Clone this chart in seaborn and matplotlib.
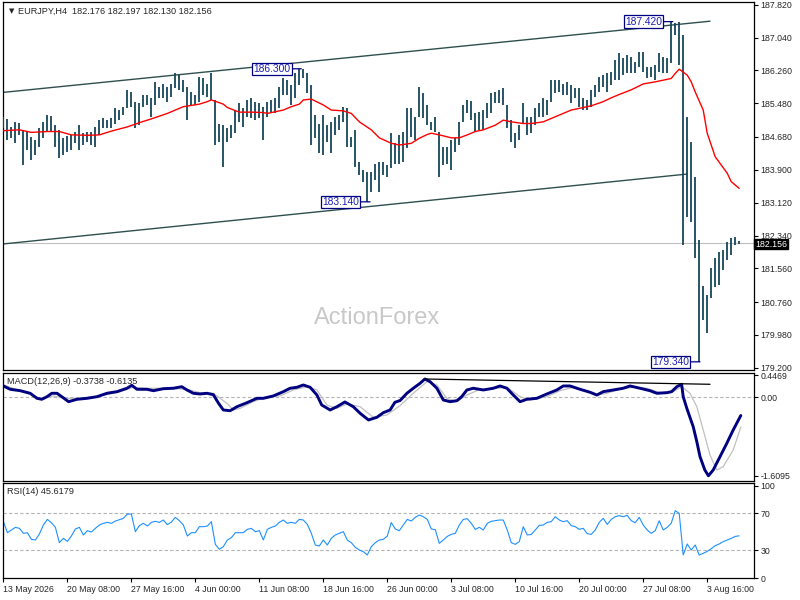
import matplotlib
matplotlib.use("Agg")
import numpy as np
import pandas as pd
import matplotlib.pyplot as plt
import seaborn as sns

sns.set_style("white")
plt.rcParams["font.family"] = ["Liberation Sans", "DejaVu Sans"]
plt.rcParams["font.size"] = 6.3

# EURJPY H4 - each column holds two H4 bars (high / low)
bar_high = [185.16, 185.10, 184.92, 185.04, 185.02, 184.85, 184.81, 184.69, 184.61, 184.89,
            185.04, 185.20, 185.18, 184.96, 184.85, 184.65, 184.70, 184.73, 184.81, 184.96,
            184.78, 184.81, 184.81, 184.92, 185.08, 185.12, 185.08, 185.12, 185.36, 185.32,
            185.40, 185.80, 185.76, 185.52, 185.48, 185.68, 185.68, 185.60, 185.99, 185.87,
            185.95, 185.87, 185.95, 186.19, 186.15, 186.03, 185.87, 185.76, 185.68, 186.11,
            186.07, 185.95, 186.19, 185.56, 185.00, 184.96, 184.89, 184.96, 185.32, 185.48,
            185.36, 185.56, 185.60, 185.52, 185.48, 185.40, 185.52, 185.56, 185.60, 185.87,
            186.07, 186.03, 185.91, 186.19, 186.30, 186.30, 186.19, 185.91, 185.20, 185.00,
            185.20, 184.96, 185.04, 185.16, 185.20, 185.40, 185.36, 184.69, 184.85, 184.09,
            183.90, 183.86, 183.86, 184.05, 184.09, 184.09, 184.01, 184.77, 184.53, 184.73,
            184.81, 185.36, 185.36, 185.16, 185.87, 185.72, 185.44, 185.04, 185.16, 184.81,
            184.45, 184.45, 184.61, 184.65, 185.04, 185.44, 185.56, 185.54, 185.24, 185.27,
            185.32, 185.48, 185.72, 185.76, 185.80, 185.84, 185.44, 185.08, 184.77, 184.96,
            185.48, 185.16, 185.16, 185.36, 185.48, 185.60, 185.56, 186.03, 186.03, 186.03,
            185.95, 185.99, 185.91, 185.84, 185.84, 185.60, 185.56, 185.80, 185.91, 186.11,
            186.15, 186.19, 186.23, 186.51, 186.67, 186.55, 186.63, 186.59, 186.47, 186.71,
            186.71, 186.35, 186.35, 186.39, 186.67, 186.59, 186.55, 187.42, 187.38, 187.42,
            187.10, 185.16, 184.57, 183.74, 182.23, 181.13, 180.93, 181.57, 181.81, 181.96,
            181.99, 182.19, 182.27, 182.31, 182.20]
bar_low = [184.89, 184.61, 184.65, 184.53, 184.73, 184.01, 184.37, 184.13, 184.25, 184.45,
           184.65, 184.80, 184.82, 184.45, 184.17, 184.25, 184.32, 184.37, 184.53, 184.37,
           184.49, 184.57, 184.49, 184.45, 184.73, 184.89, 184.89, 184.89, 185.00, 185.08,
           185.20, 185.36, 185.40, 184.89, 184.96, 185.40, 185.44, 185.16, 185.44, 185.60,
           185.60, 185.52, 185.64, 185.84, 185.80, 185.76, 185.08, 185.44, 185.44, 185.52,
           185.68, 185.64, 185.56, 184.49, 184.57, 183.97, 184.57, 184.65, 184.77, 185.04,
           184.92, 185.16, 185.12, 185.08, 185.12, 184.61, 185.16, 185.28, 185.24, 185.36,
           185.68, 185.68, 185.44, 185.60, 185.91, 186.07, 185.72, 184.49, 184.65, 184.29,
           184.25, 184.57, 184.29, 184.73, 184.85, 185.04, 184.45, 184.45, 183.97, 183.78,
           183.62, 183.14, 183.38, 183.66, 183.38, 183.78, 183.74, 183.94, 184.05, 184.05,
           184.09, 184.41, 184.69, 184.61, 185.16, 185.12, 184.96, 184.85, 184.81, 183.74,
           184.01, 184.05, 183.90, 184.33, 184.49, 185.04, 185.24, 185.08, 184.81, 184.85,
           184.85, 185.12, 185.24, 185.48, 185.48, 185.44, 184.89, 184.57, 184.41, 184.61,
           185.00, 184.73, 184.77, 184.96, 185.16, 185.16, 185.20, 185.52, 185.72, 185.76,
           185.68, 185.68, 185.48, 185.60, 185.40, 185.32, 185.32, 185.40, 185.64, 185.76,
           185.87, 185.76, 185.91, 186.03, 186.03, 186.15, 186.19, 186.19, 186.19, 186.35,
           186.23, 186.07, 186.11, 186.03, 186.23, 186.19, 186.19, 186.43, 187.10, 186.39,
           182.11, 182.78, 182.66, 181.81, 179.34, 180.33, 180.02, 180.86, 181.12, 181.16,
           181.52, 181.76, 181.88, 182.11, 182.13]

# moving average (red line)
ma_idx = [0, 4, 7, 11, 14, 17, 21, 24, 27, 31, 34, 37, 41, 45, 49, 51, 52, 55, 56, 59,
          62, 65, 66, 70, 72, 74, 75, 77, 80, 82, 85, 87, 89, 92, 94, 97, 99, 102, 104, 106,
          107, 109, 112, 114, 116, 118, 120, 123, 125, 127, 130, 132, 135, 137, 140, 142, 145, 147, 150, 152,
          154, 157, 160, 163, 167, 168, 169, 171, 172, 173, 175, 176, 178, 181, 182, 184]
ma_val = [184.83, 184.85, 184.79, 184.81, 184.81, 184.73, 184.72, 184.73, 184.82, 184.92,
          185.02, 185.11, 185.24, 185.40, 185.46, 185.52, 185.56, 185.46, 185.38, 185.27,
          185.27, 185.26, 185.24, 185.32, 185.40, 185.46, 185.56, 185.58, 185.44, 185.32,
          185.30, 185.24, 185.04, 184.85, 184.66, 184.53, 184.49, 184.53, 184.65, 184.74,
          184.77, 184.73, 184.66, 184.66, 184.73, 184.81, 184.85, 184.96, 185.08, 185.04,
          185.00, 185.00, 185.04, 185.12, 185.24, 185.32, 185.38, 185.42, 185.52, 185.61,
          185.69, 185.80, 185.94, 185.99, 186.07, 186.19, 186.29, 186.15, 185.99, 185.75,
          185.32, 184.77, 184.21, 183.82, 183.62, 183.46]

# channel and MACD trend lines (start / end)
upper_x, upper_y = [0, 176.7], [185.74, 187.43]
lower_x, lower_y = [0, 171.0], [182.14, 183.80]
macd_tl_x, macd_tl_y = [105.4, 176.7], [0.375, 0.2665]

# swing labels
pivot_x = [74.5, 167.4, 91.7, 174.2]
pivot_y = [186.30, 187.42, 183.14, 179.34]
pivot_txt = ["186.300", "187.420", "183.140", "179.340"]
last_price = 182.156

# MACD(12,26,9)
macd_idx = [0, 1.7, 4.2, 6.7, 8.4, 9.6, 10.9, 12.1, 13.4, 14.6,
            16.3, 18.4, 20.9, 23.4, 25.9, 28.4, 30.9, 32.1, 33.4, 35.9,
            37.5, 40, 42.5, 44.6, 45.9, 47.5, 49.2, 50.9, 52.5, 53.8,
            55, 56.7, 58.4, 60.9, 63.4, 65, 67.5, 70, 71.7, 73.4,
            75, 76.7, 78.4, 79.6, 81.7, 83.4, 85.4, 87.5, 89.2, 91.3,
            93.4, 95, 96.7, 97.9, 99.2, 100.9, 102.5, 104.2, 105.4, 106.7,
            108.4, 110, 111.7, 113.4, 114.6, 115.9, 117.5, 120, 122.5, 124.2,
            125.9, 127.5, 129.2, 130.9, 133.4, 135.9, 138.4, 140, 141.7, 144.2,
            146.7, 148.4, 150, 152.5, 155, 156.7, 159.2, 161.7, 163.4, 165.9,
            167.1, 168.4, 169.6, 170, 170.9, 172.5, 173.4, 174.2, 175.4, 176.3,
            177.5, 179.2, 180.9, 182.5, 184.4]
macd_val = [0.232, 0.164, 0.135, 0.082, -0.021, -0.041, 0.012, 0.082, 0.082, 0.012,
            -0.090, -0.041, -0.021, 0.012, 0.082, 0.115, 0.185, 0.246, 0.164, 0.164,
            0.135, 0.176, 0.185, 0.217, 0.150, 0.082, 0.068, 0.082, 0.053, -0.123,
            -0.260, -0.275, -0.193, -0.111, -0.021, -0.021, 0.027, 0.115, 0.185, 0.205,
            0.252, 0.205, 0.047, -0.158, -0.260, -0.193, -0.096, -0.193, -0.328, -0.465,
            -0.410, -0.316, -0.260, -0.103, -0.066, 0.082, 0.185, 0.287, 0.375, 0.320,
            0.185, -0.055, -0.090, -0.070, 0.012, 0.150, 0.185, 0.150, 0.185, 0.232,
            0.185, 0.047, -0.090, -0.041, -0.021, 0.068, 0.150, 0.232, 0.232, 0.164,
            0.103, 0.047, 0.115, 0.150, 0.185, 0.232, 0.185, 0.135, 0.082, 0.094,
            0.115, 0.217, 0.267, 0.012, -0.226, -0.603, -0.910, -1.218, -1.490, -1.609,
            -1.490, -1.218, -0.943, -0.670, -0.3738]
signal_idx = [0, 4.2, 9.2, 12.5, 15.9, 19.2, 24.2, 29.2, 32.5, 35.9,
              40.9, 45.9, 49.2, 52.5, 55.9, 57.5, 59.2, 62.5, 65.9, 69.2,
              72.5, 75.9, 78.4, 80.9, 83.4, 85.9, 89.2, 92.5, 95.9, 99.2,
              102.5, 105.9, 108.4, 110.9, 113.4, 115.9, 119.2, 123.4, 125.9, 129.2,
              131.7, 135.9, 139.2, 142.5, 145.9, 148.4, 150.9, 154.2, 157.5, 160.9,
              164.2, 167.5, 169.6, 171.7, 173.4, 175, 176.7, 178.4, 180, 182.5, 184.4]
signal_val = [0.252, 0.135, -0.021, 0.027, -0.021, -0.021, 0.027, 0.115, 0.205, 0.185,
              0.185, 0.164, 0.094, 0.082, -0.123, -0.260, -0.226, -0.090, 0.012, 0.027,
              0.150, 0.217, 0.150, -0.158, -0.226, -0.137, -0.193, -0.410, -0.363, -0.170,
              0.082, 0.320, 0.252, -0.021, -0.090, 0.047, 0.164, 0.185, 0.205, 0.012,
              -0.055, 0.012, 0.135, 0.205, 0.135, 0.047, 0.082, 0.164, 0.205, 0.185,
              0.094, 0.115, 0.217, 0.082, -0.193, -0.670, -1.183, -1.490, -1.423, -1.080, -0.6135]

# RSI(14), one value per column
rsi_val = [60.9, 49.0, 51.9, 54.8, 53.7, 48.3, 49.0, 41.8, 41.1, 47.6,
           57.3, 63.4, 59.8, 54.8, 38.2, 42.9, 39.6, 45.4, 53.0, 54.8,
           46.5, 51.2, 49.7, 53.7, 57.3, 59.1, 60.2, 59.1, 61.6, 63.1,
           64.5, 69.2, 69.2, 50.1, 56.6, 59.1, 56.2, 60.2, 61.3, 60.2,
           62.7, 57.7, 60.5, 65.6, 62.0, 57.3, 45.4, 49.0, 49.0, 55.5,
           55.5, 56.2, 60.9, 36.4, 31.0, 33.9, 41.1, 43.6, 49.0, 49.0,
           49.0, 52.6, 53.7, 50.1, 51.2, 41.1, 52.6, 54.8, 56.2, 60.2,
           62.7, 59.1, 60.2, 59.1, 63.4, 62.7, 58.0, 48.3, 35.7, 34.6,
           41.1, 35.7, 42.9, 46.5, 48.3, 50.1, 41.1, 38.2, 33.2, 30.3,
           28.5, 24.9, 33.9, 38.2, 41.1, 41.8, 45.4, 60.0, 53.0, 51.2,
           57.3, 63.4, 61.6, 65.6, 68.1, 66.3, 63.4, 53.0, 52.3, 37.5,
           41.1, 45.0, 47.2, 48.3, 57.3, 63.4, 64.1, 59.1, 52.6, 54.8,
           51.9, 59.1, 61.3, 62.0, 62.7, 62.7, 51.9, 38.2, 36.4, 39.3,
           55.5, 46.5, 47.2, 51.9, 56.9, 57.3, 60.2, 60.9, 66.3, 62.7,
           60.9, 62.0, 56.6, 55.5, 52.6, 53.7, 47.9, 47.2, 51.9, 60.2,
           64.5, 58.0, 63.4, 66.3, 67.4, 66.3, 67.7, 62.0, 59.8, 65.6,
           57.3, 51.9, 48.3, 51.2, 62.0, 51.9, 54.8, 59.1, 72.8, 69.9,
           24.9, 36.8, 30.3, 35.7, 24.9, 26.7, 28.8, 31.7, 35.0, 36.8,
           39.3, 41.1, 42.9, 45.0, 45.6]

price_ticks = [187.820, 187.040, 186.260, 185.480, 184.680, 183.900,
               183.120, 182.340, 181.560, 180.760, 179.980, 179.200]
time_labels = ["13 May 2026", "20 May 08:00", "27 May 16:00", "4 Jun 00:00",
               "11 Jun 08:00", "18 Jun 16:00", "26 Jun 00:00", "3 Jul 08:00",
               "10 Jul 16:00", "20 Jul 00:00", "27 Jul 08:00", "3 Aug 16:00"]

bars = pd.DataFrame({"high": bar_high, "low": bar_low})
bars["idx"] = np.arange(len(bars))

BAR_C = "#17465b"
NAVY = "#000080"

fig = plt.figure(figsize=(8, 6), dpi=100)
L, W = 3 / 800, 751 / 800
ax_p = fig.add_axes([L, 1 - 370 / 600, W, 368 / 600])
ax_m = fig.add_axes([L, 1 - 480.7 / 600, W, 108 / 600])
ax_r = fig.add_axes([L, 1 - 578.3 / 600, W, 95 / 600])

# ---- price panel
ax_p.axhline(last_price, color="#c0c0c0", lw=0.8, zorder=1)
ax_p.vlines(bars["idx"], bars["low"], bars["high"], color=BAR_C, lw=1.3, zorder=3)
sns.lineplot(x=ma_idx, y=ma_val, ax=ax_p, color="red", lw=1.0, estimator=None, zorder=4)
ax_p.plot(upper_x, upper_y, color="#2f4f4f", lw=1.0, zorder=2)
ax_p.plot(lower_x, lower_y, color="#2f4f4f", lw=1.0, zorder=2)

for px, py, txt in zip(pivot_x, pivot_y, pivot_txt):
    ax_p.annotate(txt, xy=(px, py), xytext=(-11, 0), textcoords="offset pixels",
                  ha="right", va="center", fontsize=7.4, color="#1e1eb4",
                  bbox=dict(boxstyle="square,pad=0.12", fc="white", ec=NAVY, lw=0.9),
                  arrowprops=dict(arrowstyle="-", color=NAVY, lw=0.9, shrinkA=0, shrinkB=0),
                  zorder=6)

ax_p.text(0.498, 0.141, "ActionForex", transform=ax_p.transAxes, fontsize=17,
          color="#c8c8c8", ha="center", va="center", zorder=0)
ax_p.text(1.0015, last_price - 0.02, f"{last_price:.3f}", transform=ax_p.get_yaxis_transform(),
          ha="left", va="center", color="white", fontsize=6.3, zorder=7,
          bbox=dict(boxstyle="square,pad=0.08", fc="black", ec="black"))

ax_p.set_ylim(179.146, 187.886)
ax_p.set_yticks(price_ticks)
ax_p.set_yticklabels([f"{v:.3f}" for v in price_ticks])

# ---- MACD panel
ax_m.axhline(0, color="#b4b4b4", lw=0.8, ls=(0, (3, 2)))
sns.lineplot(x=signal_idx, y=signal_val, ax=ax_m, color="#c0c0c0", lw=0.9, estimator=None)
sns.lineplot(x=macd_idx, y=macd_val, ax=ax_m, color=NAVY, lw=2.1, estimator=None)
ax_m.plot(macd_tl_x, macd_tl_y, color="black", lw=0.9)
ax_m.set_ylim(-1.710, 0.504)
ax_m.set_yticks([0.4469, 0.0, -1.6095])
ax_m.set_yticklabels(["0.4469", "0.00", "-1.6095"])
ax_m.get_yticklabels()[0].set_va("top")

# ---- RSI panel
for lvl in (70, 30):
    ax_r.axhline(lvl, color="#b4b4b4", lw=0.8, ls=(0, (3, 2)))
sns.lineplot(x=bars["idx"], y=rsi_val, ax=ax_r, color="#1e90ff", lw=0.8, estimator=None)
ax_r.set_ylim(-0.3, 102.4)
ax_r.set_yticks([100, 70, 30, 0])
ax_r.set_yticklabels(["100", "70", "30", "0"])
ax_r.get_yticklabels()[0].set_va("top")
ax_r.get_yticklabels()[3].set_va("bottom")

ax_r.set_xticks(range(0, 177, 16))
ax_r.set_xticklabels(time_labels, ha="left")
ax_r.tick_params(axis="x", bottom=True, length=3, pad=2, labelsize=6.3, color="black")

for ax in (ax_p, ax_m, ax_r):
    ax.set_xlim(-0.1, 187.7)
    ax.set_xlabel("")
    ax.set_ylabel("")
    ax.yaxis.tick_right()
    ax.tick_params(axis="y", right=True, length=3, pad=1.5, labelsize=6.3, color="black")
    for s in ax.spines.values():
        s.set_color("black")
        s.set_linewidth(0.9)
    ax.grid(False)
    if ax is not ax_r:
        ax.set_xticks([])

# panel captions
fig.text(9 / 800, 1 - 11 / 600, "\u25bc", fontsize=5, va="center", family=["DejaVu Sans"])
fig.text(18 / 800, 1 - 11 / 600, "EURJPY,H4  182.176 182.197 182.130 182.156",
         fontsize=6.6, va="center")
fig.text(7 / 800, 1 - 381.5 / 600, "MACD(12,26,9) -0.3738 -0.6135", fontsize=6.6, va="center")
fig.text(7 / 800, 1 - 492 / 600, "RSI(14) 45.6179", fontsize=6.6, va="center")

fig.savefig("out.png", dpi=100, facecolor="white")
